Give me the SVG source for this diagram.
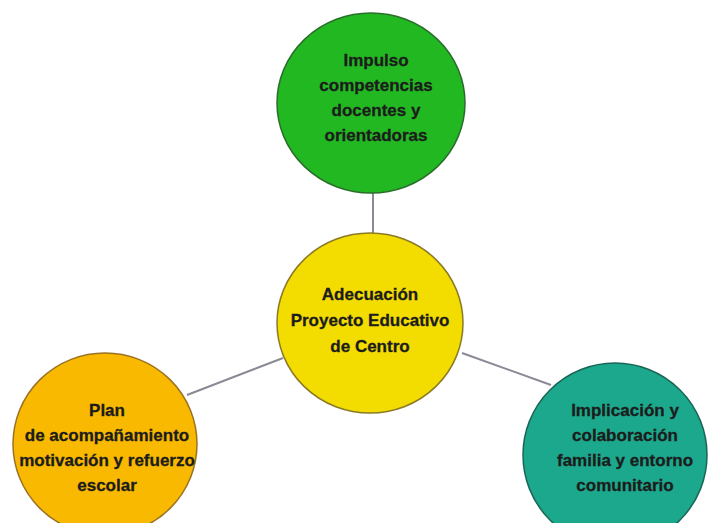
<svg xmlns="http://www.w3.org/2000/svg" width="708" height="523" viewBox="0 0 708 523">
<style>
.t{font-family:"Liberation Sans",Arial,sans-serif;font-weight:bold;font-size:17px;fill:#1c1c1c;stroke:#1c1c1c;stroke-width:0.3;text-anchor:middle;dominant-baseline:central}
.c{stroke-width:1.5}
.ln{stroke:#8a8a96;stroke-width:2;fill:none}
</style>
<rect width="708" height="523" fill="#ffffff"/>
<g id="connectors">
<line class="ln" x1="373" y1="192" x2="373" y2="234"/>
<line class="ln" x1="187" y1="395" x2="283" y2="358"/>
<line class="ln" x1="462" y1="353" x2="551" y2="385"/>
</g>
<g id="node-green">
<ellipse class="c" cx="371" cy="103" rx="94" ry="90" fill="#22b822" stroke="#2a6e2a"/>
<text class="t" x="376" y="60">Impulso</text>
<text class="t" x="376" y="85">competencias</text>
<text class="t" x="376" y="110">docentes y</text>
<text class="t" x="376" y="135">orientadoras</text>
</g>
<g id="node-yellow">
<ellipse class="c" cx="370" cy="323" rx="93" ry="90" fill="#f3dc00" stroke="#8a7a26"/>
<text class="t" x="370" y="294">Adecuación</text>
<text class="t" x="370" y="320">Proyecto Educativo</text>
<text class="t" x="370" y="346">de Centro</text>
</g>
<g id="node-orange">
<ellipse class="c" cx="105" cy="444" rx="92" ry="91" fill="#f9b900" stroke="#9a7224"/>
<text class="t" x="107" y="410">Plan</text>
<text class="t" x="107" y="435">de acompañamiento</text>
<text class="t" x="107" y="460">motivación y refuerzo</text>
<text class="t" x="107" y="485">escolar</text>
</g>
<g id="node-teal">
<ellipse class="c" cx="615" cy="455" rx="92" ry="92" fill="#1ba88c" stroke="#1a6656"/>
<text class="t" x="625" y="410">Implicación y</text>
<text class="t" x="625" y="435">colaboración</text>
<text class="t" x="625" y="460">familia y entorno</text>
<text class="t" x="625" y="485">comunitario</text>
</g>
</svg>
